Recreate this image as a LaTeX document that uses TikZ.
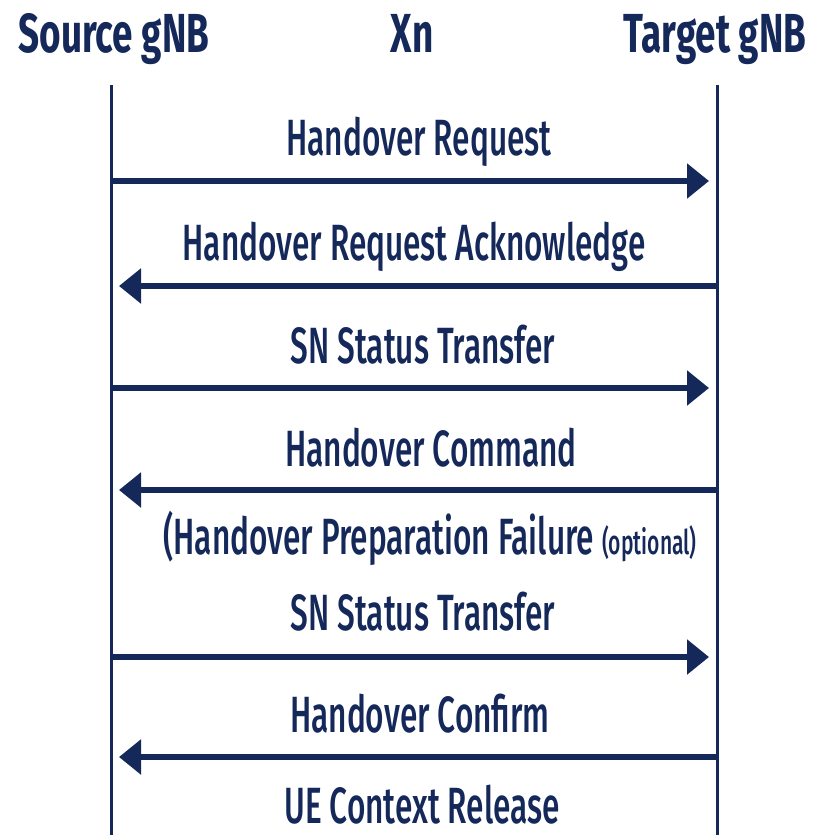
\documentclass[tikz,border=0pt]{standalone}
\usepackage{fontspec}
\setmainfont{Fira Sans}[FakeStretch=0.67]
\newfontfamily\msgfont{Fira Sans Medium}[FakeStretch=0.62]
\usetikzlibrary{arrows.meta, positioning}
\definecolor{XnNavy}{HTML}{15285A}
\tikzset{
    headlabel/.style={anchor=base, inner sep=0pt, text=XnNavy,
        font=\bfseries\fontsize{55}{60}\selectfont},
    msglabel/.style={anchor=base, inner sep=0pt, text=XnNavy,
        font=\msgfont\fontsize{51}{56}\selectfont},
    lifeline/.style={line width=3pt, XnNavy},
    msgarrow/.style={-{Triangle[length=22pt, width=34pt]}, line width=5.5pt, XnNavy, shorten >=8pt},
}

\begin{document}
\begin{tikzpicture}[x=1pt, y=-1pt]
    \useasboundingbox (0,0) rectangle (823,835);

    % entities
    \node[headlabel] (src) at (114,52) {Source gNB};
    \node[headlabel] (xn) at (412,52) {Xn};
    \node[headlabel] (tgt) at (715,52) {Target gNB};

    % lifelines
    \coordinate (srctop) at (111,85);
    \coordinate (srcbot) at (111,835);
    \coordinate (tgttop) at (717,85);
    \coordinate (tgtbot) at (717,835);
    \draw[lifeline] (srctop) -- (srcbot);
    \draw[lifeline] (tgttop) -- (tgtbot);

    % messages
    \node[msglabel] (req) at (419,155) {Handover Request};
    \coordinate (m1) at (0,181);
    \draw[msgarrow] (srctop |- m1) -- (tgttop |- m1);

    \node[msglabel] (ack) at (414,260) {Handover Request Acknowledge};
    \coordinate (m2) at (0,286);
    \draw[msgarrow] (tgttop |- m2) -- (srctop |- m2);

    \node[msglabel] (sn1) at (423,363) {SN Status Transfer};
    \coordinate (m3) at (0,388);
    \draw[msgarrow] (srctop |- m3) -- (tgttop |- m3);

    \node[msglabel] (cmd) at (431,466) {Handover Command};
    \coordinate (m4) at (0,490);
    \draw[msgarrow] (tgttop |- m4) -- (srctop |- m4);

    \node[msglabel] (fail) at (430,554) {(Handover Preparation Failure {\fontsize{34}{38}\selectfont(optional)}};

    \node[msglabel] (sn2) at (423,630) {SN Status Transfer};
    \coordinate (m6) at (0,657);
    \draw[msgarrow] (srctop |- m6) -- (tgttop |- m6);

    \node[msglabel] (cfm) at (420,732) {Handover Confirm};
    \coordinate (m7) at (0,757);
    \draw[msgarrow] (tgttop |- m7) -- (srctop |- m7);

    \node[msglabel] (rel) at (422,823) {UE Context Release};
\end{tikzpicture}
\end{document}
